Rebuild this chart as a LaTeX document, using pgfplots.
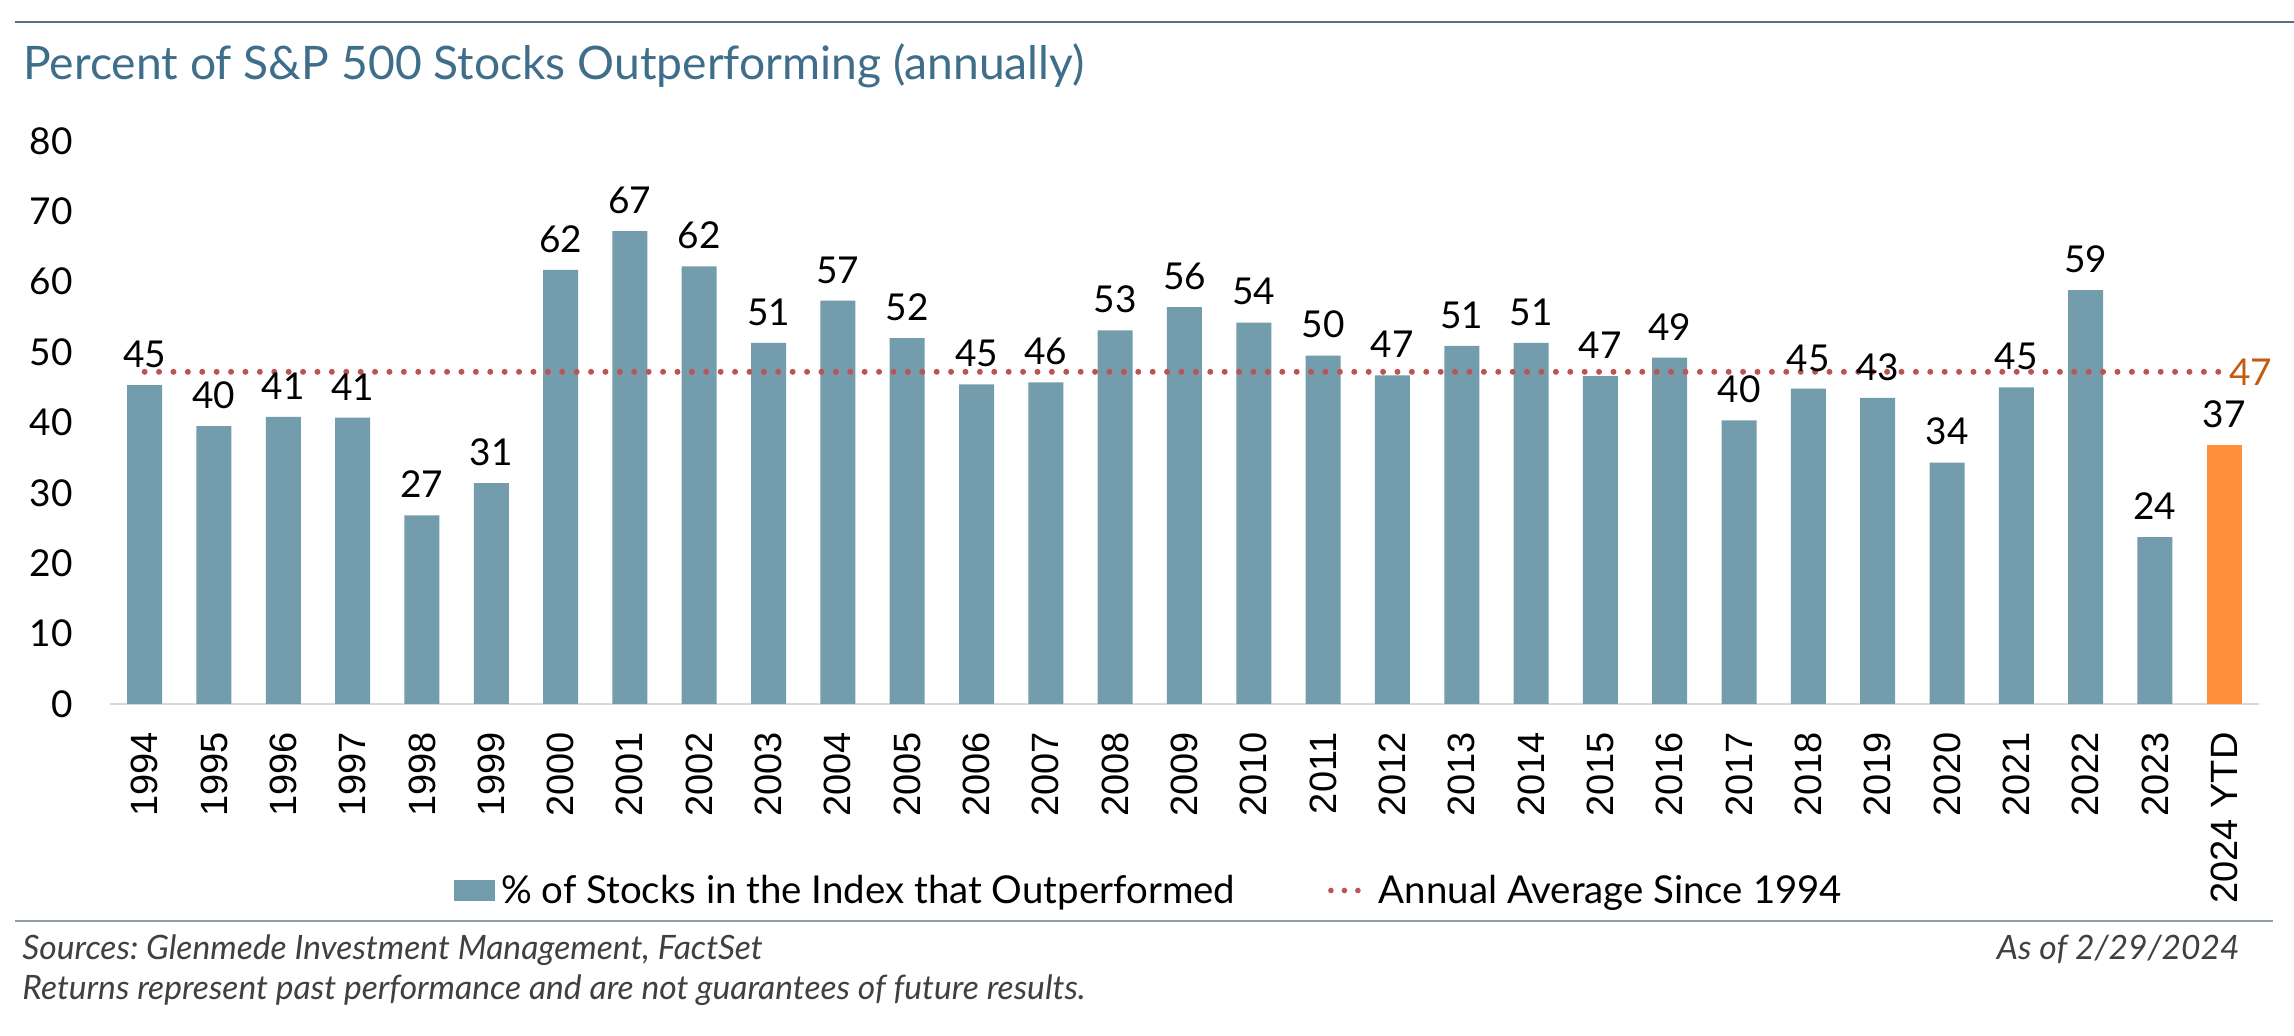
\documentclass[border=0pt]{standalone}
\usepackage{fontspec}
\setmainfont{Lato}
\newfontfamily\arialfont{Liberation Sans}
\usepackage{pgfplots}
\pgfplotsset{compat=1.18}
\usepackage{pgfplotstable}

\definecolor{barblue}{RGB}{115,157,173}
\definecolor{ytdorange}{RGB}{255,143,59}
\definecolor{avgred}{RGB}{187,84,82}
\definecolor{labelorange}{RGB}{197,90,17}
\definecolor{titleblue}{RGB}{62,110,138}
\definecolor{toprule}{RGB}{90,112,128}
\definecolor{footrule}{RGB}{145,157,166}
\definecolor{foottext}{RGB}{64,64,64}
\definecolor{axisgray}{RGB}{217,217,217}

\pgfplotstableread{
x y lab
0 45.3 45
1 39.5 40
2 40.8 41
3 40.7 41
4 26.8 27
5 31.4 31
6 61.7 62
7 67.2 67
8 62.2 62
9 51.3 51
10 57.3 57
11 52.0 52
12 45.4 45
13 45.7 46
14 53.1 53
15 56.4 56
16 54.2 54
17 49.5 50
18 46.7 47
19 50.9 51
20 51.3 51
21 46.6 47
22 49.2 49
23 40.3 40
24 44.8 45
25 43.5 43
26 34.3 34
27 45.0 45
28 58.8 59
29 23.7 24
}\bars

\pgfplotstableread{
x y lab
30 36.8 37
}\ytd

\frenchspacing
\begin{document}
\begin{tikzpicture}
\useasboundingbox (0,0) rectangle (1147pt,518pt);
% top rule and title
\draw[toprule, line width=1pt] (7.5pt,507pt) -- (1147pt,507pt);
\node[anchor=base west, inner sep=0pt, text=titleblue, font=\fontsize{23.1}{23}\selectfont] at (11.5pt,478pt) {Percent of S\&P 500 Stocks Outperforming (annually)};

\begin{axis}[
  at={(55pt,166pt)}, anchor=south west,
  width=1074.5pt, height=281.5pt, scale only axis,
  xmin=-0.5, xmax=30.5, ymin=0, ymax=80,
  xtick={0,...,30},
  xticklabels={1994,1995,1996,1997,1998,1999,2000,2001,2002,2003,2004,2005,2006,2007,2008,2009,2010,2011,2012,2013,2014,2015,2016,2017,2018,2019,2020,2021,2022,2023,2024 YTD},
  ytick={0,10,...,80},
  major tick length=0pt,
  axis x line*=bottom, axis y line*=left,
  axis line style={-},
  x axis line style={draw=axisgray, line width=1pt},
  y axis line style={draw=none},
  xticklabel style={font=\arialfont\fontsize{19}{19}\selectfont, rotate=90, anchor=east, inner sep=0pt},
  xticklabel shift=14pt,
  yticklabel style={font=\fontsize{18.5}{18.5}\selectfont, inner sep=0pt, anchor=east},
  yticklabel shift=18.5pt,
  /pgf/number format/assume math mode=true,
  clip=false,
  legend columns=2,
  legend cell align=left,
  legend style={at={(0.1601,-0.3313)}, anchor=west, draw=none, fill=none,
    inner sep=0pt, outer sep=0pt, font=\fontsize{19.2}{19}\selectfont,
    nodes={inner sep=0pt},
    /tikz/every odd column/.append style={column sep=3pt},
    /tikz/every even column/.append style={column sep=46.5pt}},
]
\addplot[ybar, bar width=17.5pt, fill=barblue, draw=none,
  legend image code/.code={\fill[barblue] (0pt,-5.25pt) rectangle (20.5pt,5.25pt);},
  nodes near coords, point meta=explicit symbolic,
  nodes near coords style={font=\fontsize{18.5}{18.5}\selectfont, text=black, anchor=south, inner sep=0pt, yshift=8.5pt}]
  table[x=x, y=y, meta=lab] {\bars};
\addlegendentry{\% of Stocks in the Index that Outperformed}
\addplot[ybar, bar width=17.5pt, fill=ytdorange, draw=none, forget plot,
  nodes near coords, point meta=explicit symbolic,
  nodes near coords style={font=\fontsize{18.5}{18.5}\selectfont, text=black, anchor=south, inner sep=0pt, yshift=8.5pt}]
  table[x=x, y=y, meta=lab] {\ytd};
\addplot[avgred, line width=3pt, line cap=round, dash pattern=on 0pt off 7.2pt,
  legend image code/.code={\draw[avgred, line width=2.8pt, line cap=round, dash pattern=on 0pt off 6.75pt] (0pt,0pt) -- (13.6pt,0pt); \path (19.5pt,0pt);},
  nodes near coords, point meta=explicit symbolic,
  nodes near coords style={font=\fontsize{18.5}{18.5}\selectfont, text=labelorange, anchor=west, inner sep=0pt, xshift=1pt}]
  coordinates {(0,47.2) [] (30,47.2) [47]};
\addlegendentry{Annual Average Since 1994}
\end{axis}

% footer
\draw[footrule, line width=1.25pt] (7.5pt,57.5pt) -- (1136.5pt,57.5pt);
\node[anchor=base west, inner sep=0pt, text=foottext, font=\itshape\fontsize{16.8}{17}\selectfont] at (11pt,38pt) {Sources: Glenmede Investment Management, FactSet};
\node[anchor=base west, inner sep=0pt, text=foottext, font=\itshape\fontsize{16.8}{17}\selectfont] at (11pt,18pt) {Returns represent past performance and are not guarantees of future results.};
\node[anchor=base east, inner sep=0pt, text=foottext, font=\itshape\fontsize{16.8}{17}\selectfont] at (1120pt,38pt) {As of 2/29/2024};
\end{tikzpicture}
\end{document}
